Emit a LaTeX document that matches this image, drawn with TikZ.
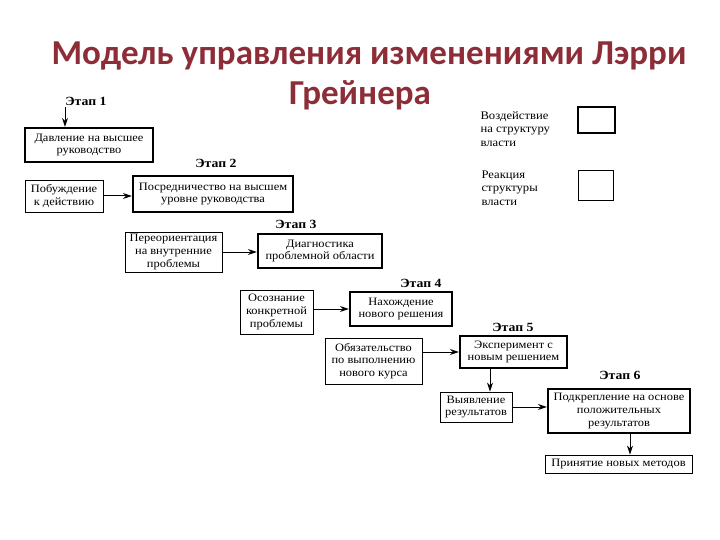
\documentclass[tikz,border=0pt]{standalone}
\usepackage{fontspec}
\setmainfont{Liberation Serif}
\newfontfamily\titlefont{Carlito}
\newfontfamily\boxfont[FakeStretch=1.1]{Liberation Serif}
\usetikzlibrary{arrows.meta}
\definecolor{titlered}{RGB}{140,45,55}
\tikzset{
  thickbox/.style={draw, line width=2.2pt, align=center, inner sep=0pt, font=\boxfont\fontsize{11.3}{12.8}\selectfont},
  thinbox/.style={draw, line width=0.9pt, align=center, inner sep=0pt, font=\boxfont\fontsize{11.3}{12.8}\selectfont},
  stagelbl/.style={font=\boxfont\bfseries\fontsize{12.5}{15}\selectfont},
  legtxt/.style={align=left, anchor=west, font=\boxfont\fontsize{11.5}{13.5}\selectfont},
  titletxt/.style={font=\titlefont\bfseries\fontsize{35}{40}\selectfont, text=titlered, anchor=base},
  arr/.style={-{Stealth[length=9pt,width=6pt]}, line width=1pt}
}
\begin{document}
\begin{tikzpicture}[x=1pt,y=-1pt]
\useasboundingbox (0,0) rectangle (720,540);
\node[titletxt] (title1) at (369,65) {Модель управления изменениями Лэрри};
\node[titletxt] (title2) at (360,105) {Грейнера};

% Stage 1
\node[stagelbl] (s1) at (86,101) {Этап 1};
\coordinate (s1top) at (65,107);
\node[thickbox, minimum width=128pt, minimum height=34pt] (b1) at (89,145) {Давление на высшее\\руководство};
\draw[arr] (s1top) -- (s1top |- b1.north);

% Stage 2
\node[stagelbl] (s2) at (216,163) {Этап 2};
\node[thinbox, minimum width=78pt, minimum height=32pt] (a2) at (64,196) {Побуждение\\к действию};
\node[thickbox, minimum width=160pt, minimum height=36pt] (b2) at (213,194) {Посредничество на высшем\\уровне руководства};
\draw[arr] (a2.east) -- (a2.east -| b2.west);

% Stage 3
\node[stagelbl] (s3) at (296,224) {Этап 3};
\node[thinbox, minimum width=97pt, minimum height=40pt] (a3) at (173.5,252) {Переориентация\\на внутренние\\проблемы};
\node[thickbox, minimum width=124pt, minimum height=34pt] (b3) at (320,251) {Диагностика\\проблемной области};
\draw[arr] (a3.east) -- (a3.east -| b3.west);

% Stage 4
\node[stagelbl] (s4) at (421,283) {Этап 4};
\node[thinbox, minimum width=73pt, minimum height=44pt] (a4) at (276.5,312) {Осознание\\конкретной\\проблемы};
\node[thickbox, minimum width=102pt, minimum height=34pt] (b4) at (401,309) {Нахождение\\нового решения};
\draw[arr] (a4.east |- b4.west) -- (b4.west);

% Stage 5
\node[stagelbl] (s5) at (513,327) {Этап 5};
\node[thinbox, minimum width=97pt, minimum height=46pt] (a5) at (373.5,361) {Обязательство\\по выполнению\\нового курса};
\node[thickbox, minimum width=107pt, minimum height=32pt] (b5) at (513.5,352) {Эксперимент с\\новым решением};
\draw[arr] (a5.east |- b5.west) -- (b5.west);

% Stage 6
\node[stagelbl] (s6) at (620,375) {Этап 6};
\node[thinbox, minimum width=72pt, minimum height=30pt] (r5) at (476,407) {Выявление\\результатов};
\coordinate (b5out) at (490,368);
\draw[arr] (b5out) -- (b5out |- r5.north);
\node[thickbox, minimum width=142pt, minimum height=44pt] (b6) at (619,411) {Подкрепление на основе\\положительных\\результатов};
\draw[arr] (r5.east) -- (r5.east -| b6.west);
\node[thinbox, minimum width=147pt, minimum height=18pt] (fin) at (618.5,464) {Принятие новых методов};
\coordinate (b6out) at (630,433);
\draw[arr] (b6out) -- (b6out |- fin.north);

% Legend
\node[legtxt] (l1) at (477,129) {Воздействие\\на структуру\\власти};
\node[draw, line width=2.2pt, minimum width=37pt, minimum height=26pt] (lb1) at (596.5,120) {};
\node[legtxt] (l2) at (478,188) {Реакция\\структуры\\власти};
\node[draw, line width=0.9pt, minimum width=35pt, minimum height=30pt] (lb2) at (595.5,185) {};
\end{tikzpicture}
\end{document}
